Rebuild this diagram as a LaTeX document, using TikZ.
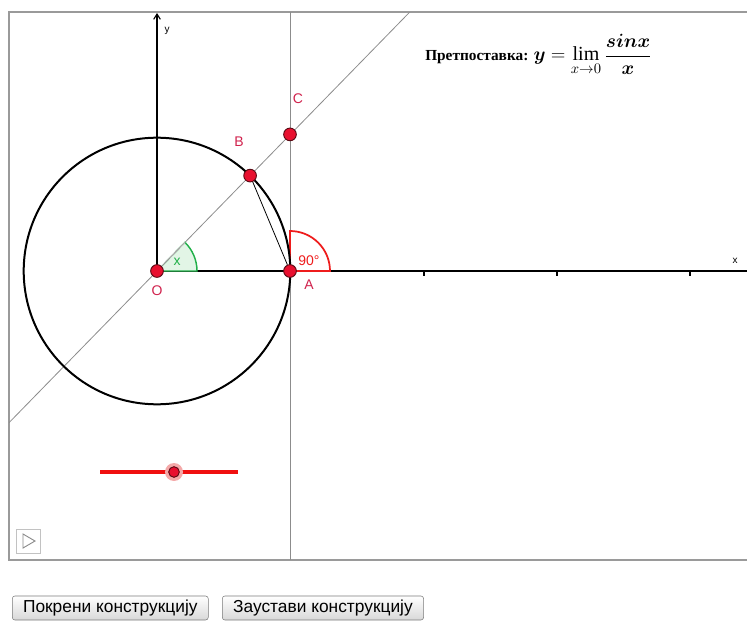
\documentclass[tikz,border=0pt]{standalone}
\usepackage{fontspec}
\setmainfont{Liberation Serif}
\setsansfont{Liberation Sans}
\usepackage{amsmath}
\usepackage{tikz}
\usetikzlibrary{arrows.meta,calc}
\definecolor{crvena}{HTML}{E8102F}
\definecolor{tamnaCrvena}{HTML}{5A0A14}
\definecolor{oznakaCrvena}{HTML}{D0214C}
\definecolor{ugaoCrvena}{HTML}{EE1C1C}
\definecolor{klizacCrvena}{HTML}{F01010}
\definecolor{zelena}{HTML}{22B04A}
\definecolor{svetloZelena}{HTML}{E2F5E6}
\definecolor{okvirSiva}{HTML}{9A9A9A}
\definecolor{linijaSiva}{HTML}{8C8C8C}
\definecolor{dugmeSiva}{HTML}{D8D8D8}
\definecolor{rozeHalo}{HTML}{F4A9A9}
\newcommand{\pretpFormula}{$\displaystyle \boldsymbol{y}=\lim_{x\to 0}\frac{\boldsymbol{sinx}}{\boldsymbol{x}}$}

\begin{document}
\begin{tikzpicture}[x=0.75pt,y=-0.75pt,
  tacka/.style={circle,fill=crvena,draw=tamnaCrvena,line width=0.7pt,minimum size=9.5pt,inner sep=0pt},
  oznaka/.style={text=oznakaCrvena,font=\sffamily\fontsize{10.5}{12}\selectfont,inner sep=0pt},
  osa/.style={black,line width=0.8pt},
  dugme/.style={draw=okvirSiva!80!black,rounded corners=2pt,top color=white,bottom color=dugmeSiva,
    font=\sffamily\fontsize{13}{14}\selectfont,minimum height=18pt,inner xsep=4pt,inner ysep=0pt}]
\useasboundingbox (0,0) rectangle (747,621);
% Okvir
\draw[okvirSiva,line width=1.1pt] (747,12) -- (9,12) -- (9,560) -- (747,560);
\begin{scope}
\clip (9,12) rectangle (747,560);
% Prave kroz O i C, tangenta u A
\draw[linijaSiva,line width=0.6pt] (9,422.7) -- (409.8,12);
\draw[linijaSiva,line width=0.6pt] (290,12) -- (290,560);
\end{scope}
% Ose
\draw[osa] (157,271) -- (747,271);
\draw[osa,-{Straight Barb[length=4pt,width=5pt]}] (157,271) -- (157,13);
\foreach \t in {290,424,557,690}
  \draw[osa] (\t,271) -- (\t,276);
\node[font=\sffamily\fontsize{7.5}{8}\selectfont] (osaY) at (167,31) {y};
\node[font=\sffamily\fontsize{7.5}{8}\selectfont] (osaX) at (735,261) {x};
% Ugao x
\filldraw[draw=zelena,fill=svetloZelena,line width=1.1pt] (157,271) -- (197,271) arc[start angle=0,end angle=-45.7,radius=40] -- cycle;
\draw[white,line width=1.2pt] (157,271) -- ++(-45.7:40);
\draw[linijaSiva,line width=0.6pt] (157,271) -- ++(-45.7:40);
\node[text=zelena,font=\sffamily\fontsize{10.5}{12}\selectfont] (ugaoX) at (177,262) {x};
% Prav ugao
\draw[ugaoCrvena,line width=1.3pt] (290,271) -- (330,271) arc[start angle=0,end angle=-90,radius=40] -- cycle;
\node[text=ugaoCrvena,font=\sffamily\fontsize{10.5}{12}\selectfont] (ugao90) at (309,261) {90°};
% Kruznica
\draw[black,line width=1.5pt] (157,271) circle[radius=133.3];
% Tacke
\node[tacka] (O) at (157,271) {};
\node[tacka] (A) at (290,271) {};
\node[tacka] (B) at (250.1,175.6) {};
\node[tacka] (C) at (290,134.4) {};
\draw[black,line width=0.6pt] (B) -- (A);
\node[oznaka] (oznO) at (157,291) {O};
\node[oznaka] (oznA) at (309,285) {A};
\node[oznaka] (oznB) at (239,142) {B};
\node[oznaka] (oznC) at (298,99) {C};
% Pretpostavka
\node[anchor=west,inner sep=0pt,font=\fontsize{11.5}{13}\selectfont\bfseries] (pretp) at (425,55)
  {Претпоставка: \fontsize{15}{17}\selectfont\pretpFormula};
% Klizac
\coordinate (k1) at (100,472);
\coordinate (k2) at (238,472);
\draw[klizacCrvena,line width=3pt] (k1) -- (k2);
\fill[rozeHalo] (174,472) circle[radius=9];
\node[tacka,minimum size=8pt] (klizac) at (174,472) {};
% Dugme za animaciju
\node[draw=okvirSiva!60,minimum width=18pt,minimum height=18pt,inner sep=0pt] (play) at (28,541) {};
\draw[linijaSiva,line width=0.7pt] ($(play)+(-5,-7)$) -- ($(play)+(7,0)$) -- ($(play)+(-5,7)$) -- cycle;
% Dugmad
\node[dugme,anchor=west,minimum width=147pt] (pokreni) at (12,608) {Покрени конструкцију};
\node[dugme,anchor=west,minimum width=151pt] (zaustavi) at (222,608) {Заустави конструкцију};
\end{tikzpicture}
\end{document}
